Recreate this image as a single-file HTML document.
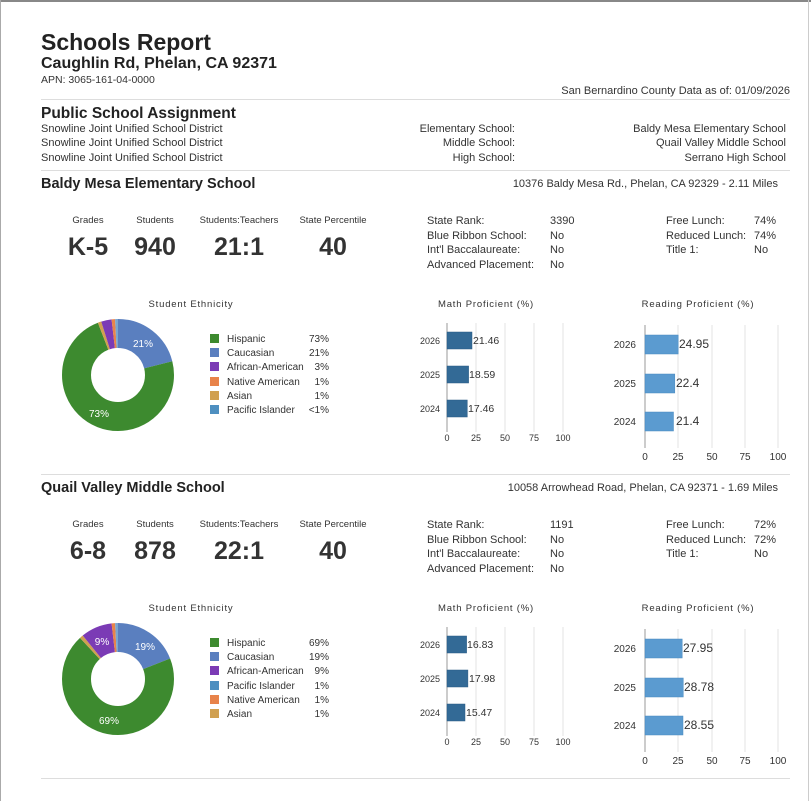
<!DOCTYPE html>
<html><head><meta charset="utf-8"><style>
*{margin:0;padding:0;box-sizing:border-box}
body{width:811px;height:801px;background:#fff;font-family:"Liberation Sans",sans-serif;color:#333;position:relative;overflow:hidden}
.a{position:absolute;white-space:nowrap;line-height:1}
.r{text-align:right}
.c{text-align:center}
.hr{position:absolute;left:41px;width:749px;height:1px;background:#ddd}
.sec{position:absolute;left:0;width:811px;height:304px}
.s{font-size:11px;color:#333}
.lbl{font-size:9.5px;color:#333}
.big{font-size:25px;font-weight:bold;color:#333}
.ct{font-size:9.5px;letter-spacing:0.8px;color:#333}
svg.a{overflow:visible}
</style></head><body>
<div style="position:absolute;left:0;top:0;width:811px;height:2px;background:#888"></div>
<div style="position:absolute;left:0;top:0;width:1px;height:801px;background:#aaa"></div>
<div style="position:absolute;right:2px;top:0;width:1px;height:801px;background:#ccc"></div>

<div class="a" style="left:41px;top:31px;font-size:23px;font-weight:bold;color:#222">Schools Report</div>
<div class="a" style="left:41px;top:56px;font-size:16px;font-weight:bold;color:#222">Caughlin Rd, Phelan, CA 92371</div>
<div class="a" style="left:41px;top:75px;font-size:10.5px">APN: 3065-161-04-0000</div>
<div class="a r" style="right:21px;top:86px;font-size:11px">San Bernardino County Data as of: 01/09/2026</div>
<div class="hr" style="top:99px"></div>
<div class="a" style="left:41px;top:106px;font-size:15.5px;font-weight:bold;color:#222">Public School Assignment</div>
<div class="a s" style="left:41px;top:124px">Snowline Joint Unified School District</div>
<div class="a s" style="left:41px;top:138px">Snowline Joint Unified School District</div>
<div class="a s" style="left:41px;top:153px">Snowline Joint Unified School District</div>
<div class="a s r" style="right:296px;top:124px">Elementary School:</div>
<div class="a s r" style="right:296px;top:138px">Middle School:</div>
<div class="a s r" style="right:296px;top:153px">High School:</div>
<div class="a s r" style="right:25px;top:124px">Baldy Mesa Elementary School</div>
<div class="a s r" style="right:25px;top:138px">Quail Valley Middle School</div>
<div class="a s r" style="right:25px;top:153px">Serrano High School</div>
<div class="hr" style="top:170px"></div>

<!-- SECTION 1 -->
<div class="sec" style="top:0">
<div class="a" style="left:41px;top:177px;font-size:14.5px;font-weight:bold;color:#222">Baldy Mesa Elementary School</div>
<div class="a s r" style="right:33px;top:179px">10376 Baldy Mesa Rd., Phelan, CA 92329 - 2.11 Miles</div>
<div class="a lbl c" style="left:58px;width:60px;top:216px">Grades</div>
<div class="a lbl c" style="left:125px;width:60px;top:216px">Students</div>
<div class="a lbl c" style="left:194px;width:90px;top:216px">Students:Teachers</div>
<div class="a lbl c" style="left:288px;width:90px;top:216px">State Percentile</div>
<div class="a big c" style="left:48px;width:80px;top:235px">K-5</div>
<div class="a big c" style="left:115px;width:80px;top:235px">940</div>
<div class="a big c" style="left:199px;width:80px;top:235px">21:1</div>
<div class="a big c" style="left:293px;width:80px;top:235px">40</div>
<div class="a s" style="left:427px;top:214px;line-height:14.5px">State Rank:<br>Blue Ribbon School:<br>Int'l Baccalaureate:<br>Advanced Placement:</div>
<div class="a s" style="left:550px;top:214px;line-height:14.5px">3390<br>No<br>No<br>No</div>
<div class="a s" style="left:666px;top:214px;line-height:14.5px">Free Lunch:<br>Reduced Lunch:<br>Title 1:</div>
<div class="a s" style="left:754px;top:214px;line-height:14.5px">74%<br>74%<br>No</div>

<div class="a ct c" style="left:121px;width:140px;top:300px">Student Ethnicity</div>
<svg class="a" style="left:0;top:0" width="811" height="500">
<g transform="rotate(-90 118 375)" fill="none" stroke-width="29">
<circle cx="118" cy="375" r="41.5" stroke="#5a7fbf" stroke-dasharray="54.76 300"/>
<circle cx="118" cy="375" r="41.5" stroke="#3d8a2f" stroke-dasharray="190.35 300" stroke-dashoffset="-54.76"/>
<circle cx="118" cy="375" r="41.5" stroke="#d0a050" stroke-dasharray="2.61 300" stroke-dashoffset="-245.1"/>
<circle cx="118" cy="375" r="41.5" stroke="#7b3bb5" stroke-dasharray="7.82 300" stroke-dashoffset="-247.7"/>
<circle cx="118" cy="375" r="41.5" stroke="#e8834a" stroke-dasharray="2.61 300" stroke-dashoffset="-255.5"/>
<circle cx="118" cy="375" r="41.5" stroke="#7aa6cf" stroke-dasharray="2.61 300" stroke-dashoffset="-258.1"/>
</g>
<text x="143" y="347" font-size="10" fill="#fff" text-anchor="middle" font-family="Liberation Sans">21%</text>
<text x="99" y="417" font-size="10" fill="#fff" text-anchor="middle" font-family="Liberation Sans">73%</text>
</svg>
<div class="a" style="left:210px;top:333px;font-size:10px;line-height:14.2px">
<div><span style="display:inline-block;width:9px;height:9px;background:#3d8a2f;margin-right:8px;vertical-align:-1px"></span>Hispanic</div>
<div><span style="display:inline-block;width:9px;height:9px;background:#5a7fbf;margin-right:8px;vertical-align:-1px"></span>Caucasian</div>
<div><span style="display:inline-block;width:9px;height:9px;background:#7b3bb5;margin-right:8px;vertical-align:-1px"></span>African-American</div>
<div><span style="display:inline-block;width:9px;height:9px;background:#e8834a;margin-right:8px;vertical-align:-1px"></span>Native American</div>
<div><span style="display:inline-block;width:9px;height:9px;background:#d0a050;margin-right:8px;vertical-align:-1px"></span>Asian</div>
<div><span style="display:inline-block;width:9px;height:9px;background:#4e8fc0;margin-right:8px;vertical-align:-1px"></span>Pacific Islander</div>
</div>
<div class="a r" style="left:290px;width:39px;top:333px;font-size:10px;line-height:14.2px">73%<br>21%<br>3%<br>1%<br>1%<br>&lt;1%</div>

<div class="a ct c" style="left:416px;width:140px;top:300px">Math Proficient (%)</div>
<div class="a ct c" style="left:628px;width:140px;top:300px">Reading Proficient (%)</div>
<svg class="a" style="left:0;top:0" width="811" height="500" font-family="Liberation Sans">
<g stroke="#e3e3e3" stroke-width="1">
<line x1="476" y1="323" x2="476" y2="432"/><line x1="505" y1="323" x2="505" y2="432"/><line x1="534" y1="323" x2="534" y2="432"/><line x1="563" y1="323" x2="563" y2="432"/>
<line x1="678" y1="325" x2="678" y2="448"/><line x1="712" y1="325" x2="712" y2="448"/><line x1="745" y1="325" x2="745" y2="448"/><line x1="778" y1="325" x2="778" y2="448"/>
</g>
<g stroke="#999"><line x1="447" y1="323" x2="447" y2="432"/><line x1="645" y1="325" x2="645" y2="448"/></g>
<g fill="#336a96" stroke="#2a5a84" stroke-width="0.5">
<rect x="447" y="332" width="25" height="17"/><rect x="447" y="366" width="21.6" height="17"/><rect x="447" y="400" width="20.3" height="17"/>
</g>
<g font-size="9" fill="#333" text-anchor="end"><text x="440" y="344">2026</text><text x="440" y="378">2025</text><text x="440" y="412">2024</text></g>
<g font-size="10.5" fill="#333"><text x="473" y="344">21.46</text><text x="469" y="378">18.59</text><text x="468" y="412">17.46</text></g>
<g font-size="9" fill="#333" text-anchor="middle"><text x="447" y="441">0</text><text x="476" y="441">25</text><text x="505" y="441">50</text><text x="534" y="441">75</text><text x="563" y="441">100</text></g>
<g fill="#5b9bd0" stroke="#4a8ac0" stroke-width="0.5">
<rect x="645" y="335" width="33.2" height="19"/><rect x="645" y="374" width="29.8" height="19"/><rect x="645" y="412" width="28.5" height="19"/>
</g>
<g font-size="10" fill="#333" text-anchor="end"><text x="636" y="348">2026</text><text x="636" y="387">2025</text><text x="636" y="425">2024</text></g>
<g font-size="12" fill="#333"><text x="679" y="348">24.95</text><text x="676" y="387">22.4</text><text x="676" y="425">21.4</text></g>
<g font-size="10" fill="#333" text-anchor="middle"><text x="645" y="460">0</text><text x="678" y="460">25</text><text x="712" y="460">50</text><text x="745" y="460">75</text><text x="778" y="460">100</text></g>
</svg>
</div>
<div class="hr" style="top:474px"></div>

<!-- SECTION 2 -->
<div class="sec" style="top:304px">
<div class="a" style="left:41px;top:177px;font-size:14.5px;font-weight:bold;color:#222">Quail Valley Middle School</div>
<div class="a s r" style="right:33px;top:179px">10058 Arrowhead Road, Phelan, CA 92371 - 1.69 Miles</div>
<div class="a lbl c" style="left:58px;width:60px;top:216px">Grades</div>
<div class="a lbl c" style="left:125px;width:60px;top:216px">Students</div>
<div class="a lbl c" style="left:194px;width:90px;top:216px">Students:Teachers</div>
<div class="a lbl c" style="left:288px;width:90px;top:216px">State Percentile</div>
<div class="a big c" style="left:48px;width:80px;top:235px">6-8</div>
<div class="a big c" style="left:115px;width:80px;top:235px">878</div>
<div class="a big c" style="left:199px;width:80px;top:235px">22:1</div>
<div class="a big c" style="left:293px;width:80px;top:235px">40</div>
<div class="a s" style="left:427px;top:214px;line-height:14.5px">State Rank:<br>Blue Ribbon School:<br>Int'l Baccalaureate:<br>Advanced Placement:</div>
<div class="a s" style="left:550px;top:214px;line-height:14.5px">1191<br>No<br>No<br>No</div>
<div class="a s" style="left:666px;top:214px;line-height:14.5px">Free Lunch:<br>Reduced Lunch:<br>Title 1:</div>
<div class="a s" style="left:754px;top:214px;line-height:14.5px">72%<br>72%<br>No</div>

<div class="a ct c" style="left:121px;width:140px;top:300px">Student Ethnicity</div>
<svg class="a" style="left:0;top:0" width="811" height="500">
<g transform="rotate(-90 118 375)" fill="none" stroke-width="29">
<circle cx="118" cy="375" r="41.5" stroke="#5a7fbf" stroke-dasharray="49.54 300"/>
<circle cx="118" cy="375" r="41.5" stroke="#3d8a2f" stroke-dasharray="179.9 300" stroke-dashoffset="-49.54"/>
<circle cx="118" cy="375" r="41.5" stroke="#d0a050" stroke-dasharray="2.61 300" stroke-dashoffset="-229.45"/>
<circle cx="118" cy="375" r="41.5" stroke="#7b3bb5" stroke-dasharray="23.47 300" stroke-dashoffset="-232.06"/>
<circle cx="118" cy="375" r="41.5" stroke="#e8834a" stroke-dasharray="2.61 300" stroke-dashoffset="-255.5"/>
<circle cx="118" cy="375" r="41.5" stroke="#7aa6cf" stroke-dasharray="2.61 300" stroke-dashoffset="-258.1"/>
</g>
<text x="145" y="346" font-size="10" fill="#fff" text-anchor="middle" font-family="Liberation Sans">19%</text>
<text x="102" y="341" font-size="10" fill="#fff" text-anchor="middle" font-family="Liberation Sans">9%</text>
<text x="109" y="420" font-size="10" fill="#fff" text-anchor="middle" font-family="Liberation Sans">69%</text>
</svg>
<div class="a" style="left:210px;top:333px;font-size:10px;line-height:14.2px">
<div><span style="display:inline-block;width:9px;height:9px;background:#3d8a2f;margin-right:8px;vertical-align:-1px"></span>Hispanic</div>
<div><span style="display:inline-block;width:9px;height:9px;background:#5a7fbf;margin-right:8px;vertical-align:-1px"></span>Caucasian</div>
<div><span style="display:inline-block;width:9px;height:9px;background:#7b3bb5;margin-right:8px;vertical-align:-1px"></span>African-American</div>
<div><span style="display:inline-block;width:9px;height:9px;background:#4e8fc0;margin-right:8px;vertical-align:-1px"></span>Pacific Islander</div>
<div><span style="display:inline-block;width:9px;height:9px;background:#e8834a;margin-right:8px;vertical-align:-1px"></span>Native American</div>
<div><span style="display:inline-block;width:9px;height:9px;background:#d0a050;margin-right:8px;vertical-align:-1px"></span>Asian</div>
</div>
<div class="a r" style="left:290px;width:39px;top:333px;font-size:10px;line-height:14.2px">69%<br>19%<br>9%<br>1%<br>1%<br>1%</div>

<div class="a ct c" style="left:416px;width:140px;top:300px">Math Proficient (%)</div>
<div class="a ct c" style="left:628px;width:140px;top:300px">Reading Proficient (%)</div>
<svg class="a" style="left:0;top:0" width="811" height="500" font-family="Liberation Sans">
<g stroke="#e3e3e3" stroke-width="1">
<line x1="476" y1="323" x2="476" y2="432"/><line x1="505" y1="323" x2="505" y2="432"/><line x1="534" y1="323" x2="534" y2="432"/><line x1="563" y1="323" x2="563" y2="432"/>
<line x1="678" y1="325" x2="678" y2="448"/><line x1="712" y1="325" x2="712" y2="448"/><line x1="745" y1="325" x2="745" y2="448"/><line x1="778" y1="325" x2="778" y2="448"/>
</g>
<g stroke="#999"><line x1="447" y1="323" x2="447" y2="432"/><line x1="645" y1="325" x2="645" y2="448"/></g>
<g fill="#336a96" stroke="#2a5a84" stroke-width="0.5">
<rect x="447" y="332" width="19.6" height="17"/><rect x="447" y="366" width="20.9" height="17"/><rect x="447" y="400" width="18" height="17"/>
</g>
<g font-size="9" fill="#333" text-anchor="end"><text x="440" y="344">2026</text><text x="440" y="378">2025</text><text x="440" y="412">2024</text></g>
<g font-size="10.5" fill="#333"><text x="467" y="344">16.83</text><text x="469" y="378">17.98</text><text x="466" y="412">15.47</text></g>
<g font-size="9" fill="#333" text-anchor="middle"><text x="447" y="441">0</text><text x="476" y="441">25</text><text x="505" y="441">50</text><text x="534" y="441">75</text><text x="563" y="441">100</text></g>
<g fill="#5b9bd0" stroke="#4a8ac0" stroke-width="0.5">
<rect x="645" y="335" width="37.2" height="19"/><rect x="645" y="374" width="38.3" height="19"/><rect x="645" y="412" width="38" height="19"/>
</g>
<g font-size="10" fill="#333" text-anchor="end"><text x="636" y="348">2026</text><text x="636" y="387">2025</text><text x="636" y="425">2024</text></g>
<g font-size="12" fill="#333"><text x="683" y="348">27.95</text><text x="684" y="387">28.78</text><text x="684" y="425">28.55</text></g>
<g font-size="10" fill="#333" text-anchor="middle"><text x="645" y="460">0</text><text x="678" y="460">25</text><text x="712" y="460">50</text><text x="745" y="460">75</text><text x="778" y="460">100</text></g>
</svg>
</div>
<div class="hr" style="top:778px"></div>
</body></html>
